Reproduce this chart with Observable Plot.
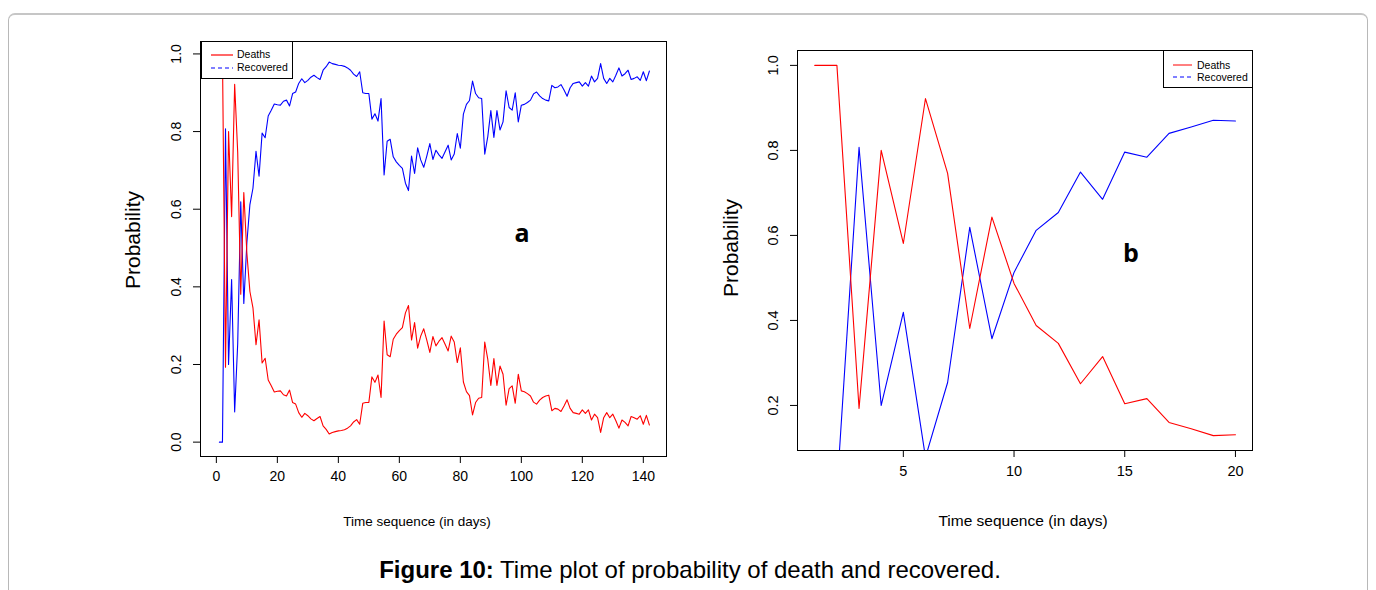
<!DOCTYPE html>
<html><head><meta charset="utf-8">
<script src="https://cdn.jsdelivr.net/npm/d3@7"></script>
<script src="https://cdn.jsdelivr.net/npm/@observablehq/plot@0.6"></script>
<style>
html,body{margin:0;padding:0;background:#fff;}
#page{position:relative;width:1376px;height:590px;overflow:hidden;font-family:"Liberation Sans",Arial,Helvetica,sans-serif;color:#000;}
#border{position:absolute;left:8px;top:13px;width:1360px;height:640px;border:1px solid #b8b8b8;border-top:2px solid #c6c6c6;border-radius:7px;box-sizing:border-box;}
.plot{position:absolute;top:0;}
.lab{position:absolute;white-space:nowrap;transform:translate(-50%,-50%);}
.ylab{transform:translate(-50%,-50%) rotate(-90deg);}
.tag{position:absolute;font-family:"Open Sans",sans-serif;font-weight:700;font-size:25px;transform:translate(-50%,-50%);}
.legend{position:absolute;background:#fff;border:1px solid #000;box-sizing:border-box;font-size:10.5px;line-height:13px;}
.legend .row{position:absolute;white-space:nowrap;}
.legend svg{position:absolute;}
#caption{position:absolute;left:0;width:1380px;top:556px;text-align:center;font-size:24px;}
</style></head>
<body><div id="page">
<div id="border"></div>
<div id="left" class="plot" style="left:0"></div>
<div id="right" class="plot" style="left:688px"></div>
<div class="lab" style="left:417px;top:521px;font-size:13.5px">Time sequence (in days)</div>
<div class="lab ylab" style="left:133px;top:240px;font-size:21px">Probability</div>
<div class="lab" style="left:1023px;top:521px;font-size:15.5px">Time sequence (in days)</div>
<div class="lab ylab" style="left:731px;top:248px;font-size:21px">Probability</div>
<div class="tag" style="left:522px;top:232px">a</div>
<div class="tag" style="left:1131px;top:252px">b</div>
<div class="legend" style="left:201px;top:41px;width:92px;height:38px">
  <svg style="left:8px;top:6px" width="24" height="26"><line x1="1" x2="23" y1="7" y2="7" stroke="#ff0000" stroke-width="1.2"/><line x1="1" x2="23" y1="20" y2="20" stroke="#0000ff" stroke-width="1.2" stroke-dasharray="4,3"/></svg>
  <div class="row" style="left:35px;top:6px">Deaths</div>
  <div class="row" style="left:35px;top:19px">Recovered</div>
</div>
<div class="legend" style="left:1163px;top:50px;width:90px;height:38px">
  <svg style="left:8px;top:6px" width="22" height="26"><line x1="1" x2="20" y1="8" y2="8" stroke="#ff0000" stroke-width="1"/><line x1="1" x2="20" y1="20" y2="20" stroke="#0000ff" stroke-width="1" stroke-dasharray="4,3"/></svg>
  <div class="row" style="left:33px;top:8px">Deaths</div>
  <div class="row" style="left:33px;top:20px">Recovered</div>
</div>
<div id="caption"><b>Figure 10:</b> Time plot of probability of death and recovered.</div>
</div>
<script>
// ---- data (a): days 1..142 ----
const deathsA = [1,1,0.193,0.80,0.581,0.922,0.746,0.381,0.643,0.487,0.388,0.346,0.251,0.315,0.204,0.216,0.160,0.145,0.129,0.131,
0.132,0.122,0.119,0.134,0.102,0.098,0.076,0.064,0.074,0.068,0.060,0.055,0.061,0.066,0.042,0.033,0.021,0.025,0.027,0.029,
0.030,0.032,0.036,0.042,0.052,0.058,0.046,0.100,0.102,0.102,0.168,0.154,0.173,0.115,0.312,0.225,0.220,0.265,0.278,0.287,
0.295,0.333,0.352,0.263,0.308,0.242,0.273,0.292,0.263,0.231,0.272,0.248,0.260,0.269,0.252,0.235,0.273,0.258,0.205,0.243,
0.155,0.130,0.120,0.070,0.102,0.113,0.115,0.258,0.213,0.146,0.215,0.146,0.196,0.175,0.095,0.138,0.145,0.100,0.175,0.132,
0.130,0.125,0.119,0.103,0.098,0.108,0.115,0.119,0.121,0.081,0.087,0.085,0.079,0.093,0.109,0.087,0.076,0.074,0.072,0.083,
0.074,0.083,0.057,0.072,0.063,0.025,0.063,0.076,0.063,0.072,0.055,0.036,0.057,0.051,0.042,0.066,0.063,0.059,0.068,0.046,
0.069,0.044];
const recoveredA = [0,0,0.807,0.200,0.419,0.078,0.254,0.619,0.357,0.513,0.612,0.654,0.749,0.685,0.796,0.784,0.840,0.855,0.871,0.869,
0.868,0.878,0.881,0.866,0.898,0.902,0.924,0.936,0.926,0.932,0.940,0.945,0.939,0.934,0.958,0.967,0.979,0.975,0.973,0.971,
0.970,0.968,0.964,0.958,0.948,0.942,0.954,0.900,0.898,0.898,0.832,0.846,0.827,0.885,0.688,0.775,0.780,0.735,0.722,0.713,
0.705,0.667,0.648,0.737,0.692,0.758,0.727,0.708,0.737,0.769,0.728,0.752,0.740,0.731,0.748,0.765,0.727,0.742,0.795,0.757,
0.845,0.870,0.880,0.930,0.898,0.887,0.885,0.742,0.787,0.854,0.785,0.854,0.804,0.825,0.905,0.862,0.855,0.900,0.825,0.868,
0.870,0.875,0.881,0.897,0.902,0.892,0.885,0.881,0.879,0.919,0.913,0.915,0.921,0.907,0.891,0.913,0.924,0.926,0.928,0.917,
0.926,0.917,0.943,0.928,0.937,0.975,0.937,0.924,0.937,0.928,0.945,0.964,0.943,0.949,0.958,0.934,0.937,0.941,0.932,0.954,
0.931,0.956];
// ---- data (b): days 1..20 ----
const deathsB = [1,1,0.193,0.80,0.581,0.922,0.746,0.381,0.643,0.487,0.388,0.346,0.251,0.315,0.204,0.216,0.160,0.145,0.129,0.131];
const recoveredB = [0,0,0.807,0.200,0.419,0.078,0.254,0.619,0.357,0.513,0.612,0.654,0.749,0.685,0.796,0.784,0.840,0.855,0.871,0.869];
const xTicksA = [0,20,40,60,80,100,120,140];
const yTicksA = [0,0.2,0.4,0.6,0.8,1.0];
const xTicksB = [5,10,15,20];
const yTicksB = [0.2,0.4,0.6,0.8,1.0];

const toRows = (arr) => arr.map((v, i) => ({day: i + 1, p: v}));
const font = '"Liberation Sans",Arial,Helvetica,sans-serif';

function panel({deaths, recovered, xDomain, yDomain, xTicks, yTicks, ml, mt, mr, mb, fs}) {
  return Plot.plot({
    width: 688, height: 560,
    marginLeft: ml, marginTop: mt, marginRight: mr, marginBottom: mb,
    x: {domain: xDomain},
    y: {domain: yDomain},
    style: {fontFamily: font, fontSize: fs + "px", background: "transparent", color: "#000", overflow: "visible"},
    marks: [
      Plot.line(toRows(recovered), {x: "day", y: "p", stroke: "#0000ff", strokeWidth: 1.1, clip: true}),
      Plot.line(toRows(deaths), {x: "day", y: "p", stroke: "#ff0000", strokeWidth: 1.1, clip: true}),
      Plot.frame({stroke: "#000", strokeWidth: 1}),
      Plot.axisX({ticks: xTicks, tickSize: 7, tickPadding: 8, tickFormat: d => String(d), label: null, fontSize: fs, stroke: "#000"}),
      Plot.axisY({ticks: yTicks, tickSize: 7, tickPadding: 13, tickRotate: -90, tickFormat: d3.format(".1f"), label: null, fontSize: fs, stroke: "#000"})
    ]
  });
}

document.getElementById("left").append(panel({
  deaths: deathsA, recovered: recoveredA,
  xDomain: [-5.2, 147.6], yDomain: [-0.037, 1.032],
  xTicks: xTicksA, yTicks: yTicksA,
  ml: 200, mt: 41, mr: 22, mb: 104, fs: 14
}));
document.getElementById("right").append(panel({
  deaths: deathsB, recovered: recoveredB,
  xDomain: [0.22, 20.77], yDomain: [0.094, 1.035],
  xTicks: xTicksB, yTicks: yTicksB,
  ml: 109, mt: 50, mr: 124, mb: 110, fs: 14.5
}));
</script>
</body></html>
